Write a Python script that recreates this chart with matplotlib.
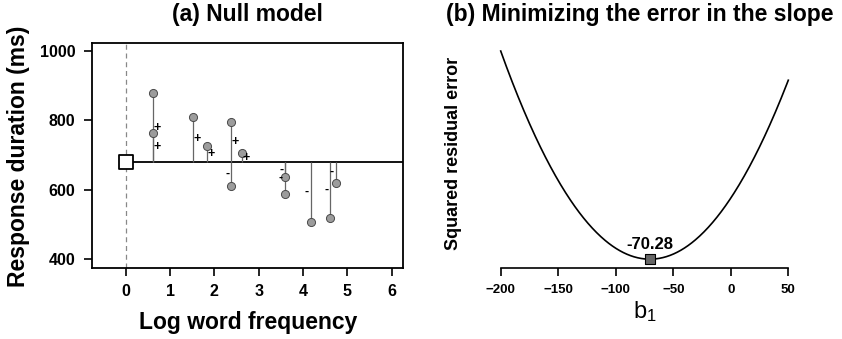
import numpy as np
import matplotlib
matplotlib.use("Agg")
import matplotlib.pyplot as plt

plt.rcParams['font.family'] = ['Liberation Sans', 'DejaVu Sans']
plt.rcParams['mathtext.default'] = 'regular'

# Word frequency (log) and response durations for 12 items
log_freq = [0.61, 0.61, 1.51, 1.83, 2.38, 2.38, 2.62, 3.60, 3.59, 4.17, 4.61, 4.74]
duration = [878, 764, 810, 725, 795, 612, 705, 637, 588, 508, 520, 621]

# Fitted slope shown in panel (b)
best_slope = -70.28
slope_range = [-200, 50]
slope_ticks = [-200, -150, -100, -50, 0, 50]
freq_ticks = [0, 1, 2, 3, 4, 5, 6]
dur_ticks = [400, 600, 800, 1000]

x = np.array(log_freq)
y = np.array(duration)
y_mean = y.mean()

W, H = 842, 339
fig = plt.figure(figsize=(W / 100, H / 100), dpi=100)


def px_rect(l, r, t, b):
    return [l / W, (H - b) / H, (r - l) / W, (b - t) / H]


# ---------------- (a) Null model ----------------
ax1 = fig.add_axes(px_rect(92, 403.3, 42.7, 267.5))
ax1.set_xlim(-0.5 - 0.26, 6 + 0.26)
ax1.set_ylim(400 - 24, 1000 + 24)
for s in ax1.spines.values():
    s.set_linewidth(1.3)
ax1.axvline(0, color='#888888', lw=0.9, ls=(0, (4, 3)), zorder=1)
ax1.hlines(y_mean, 0, ax1.get_xlim()[1], color='black', lw=1.3, zorder=2)
ax1.vlines(x, y_mean, y, color='#666666', lw=0.9, zorder=2)
ax1.scatter(x, y, s=34, facecolor='#9c9c9c', edgecolor='#4a4a4a', lw=0.7, zorder=3)
ax1.scatter([0], [y_mean], marker='s', s=110, facecolor='white',
            edgecolor='black', lw=1.3, zorder=4)
for xi, yi in zip(x, y):
    mid = (yi + y_mean) / 2
    if yi > y_mean:
        ax1.text(xi + 0.09, mid, '+', fontsize=9, fontweight='bold',
                 ha='center', va='center', zorder=5)
    else:
        ax1.text(xi - 0.09, mid, '-', fontsize=9, fontweight='bold',
                 ha='center', va='center', zorder=5)
ax1.set_xticks(freq_ticks)
ax1.set_yticks(dur_ticks)
ax1.tick_params(axis='both', direction='out', length=6, width=1.2,
                labelsize=11.5, pad=6)
for lab in ax1.get_xticklabels() + ax1.get_yticklabels():
    lab.set_fontweight('bold')
fig.text(247 / W, 1 - 15 / H, '(a) Null model', ha='center', va='center',
         fontsize=16.5, fontweight='bold')
fig.text(248 / W, 1 - 322 / H, 'Log word frequency', ha='center', va='center',
         fontsize=16.5, fontweight='bold')
fig.text(19 / W, 1 - 156.5 / H, 'Response duration (ms)', ha='center', va='center',
         rotation=90, fontsize=16.5, fontweight='bold')

# ---------------- (b) Error as a function of slope ----------------
ax2 = fig.add_axes(px_rect(489.2, 799.8, 42.7, 267.5))
sxx = np.sum((x - x.mean()) ** 2)
b1 = np.linspace(slope_range[0], slope_range[1], 400)
sse_min = np.sum((y - y_mean - best_slope * (x - x.mean())) ** 2)
sse = sse_min + sxx * (b1 - best_slope) ** 2
ax2.plot(b1, sse, color='black', lw=1.2)
ax2.scatter([best_slope], [sse_min], marker='s', s=50, facecolor='#666666',
            edgecolor='black', lw=0.8, zorder=3)
ax2.annotate(f'{best_slope:.2f}', (best_slope, sse_min), xytext=(0, 7),
             textcoords='offset points', ha='center', va='baseline',
             fontsize=12, fontweight='bold')
pad_x = 0.04 * (slope_range[1] - slope_range[0])
ax2.set_xlim(slope_range[0] - pad_x, slope_range[1] + pad_x)
sse_top = sse.max()
pad_y = 0.04 * (sse_top - sse_min)
ax2.set_ylim(sse_min - pad_y, sse_top + pad_y)
for side in ['top', 'right', 'left']:
    ax2.spines[side].set_visible(False)
ax2.spines['bottom'].set_bounds(slope_range[0], slope_range[1])
ax2.spines['bottom'].set_linewidth(1.2)
ax2.set_yticks([])
ax2.set_xticks(slope_ticks)
ax2.tick_params(axis='x', direction='out', length=6, width=1.2,
                labelsize=9.5, pad=6)
for lab in ax2.get_xticklabels():
    lab.set_fontweight('bold')
fig.text(640 / W, 1 - 15 / H, '(b) Minimizing the error in the slope',
         ha='center', va='center', fontsize=16.5, fontweight='bold')
fig.text(645 / W, 1 - 312 / H, 'b$_1$', ha='center', va='center', fontsize=17)
fig.text(453 / W, 1 - 153 / H, 'Squared residual error', ha='center',
         va='center', rotation=90, fontsize=13, fontweight='bold')

fig.savefig('out.png', dpi=100)
